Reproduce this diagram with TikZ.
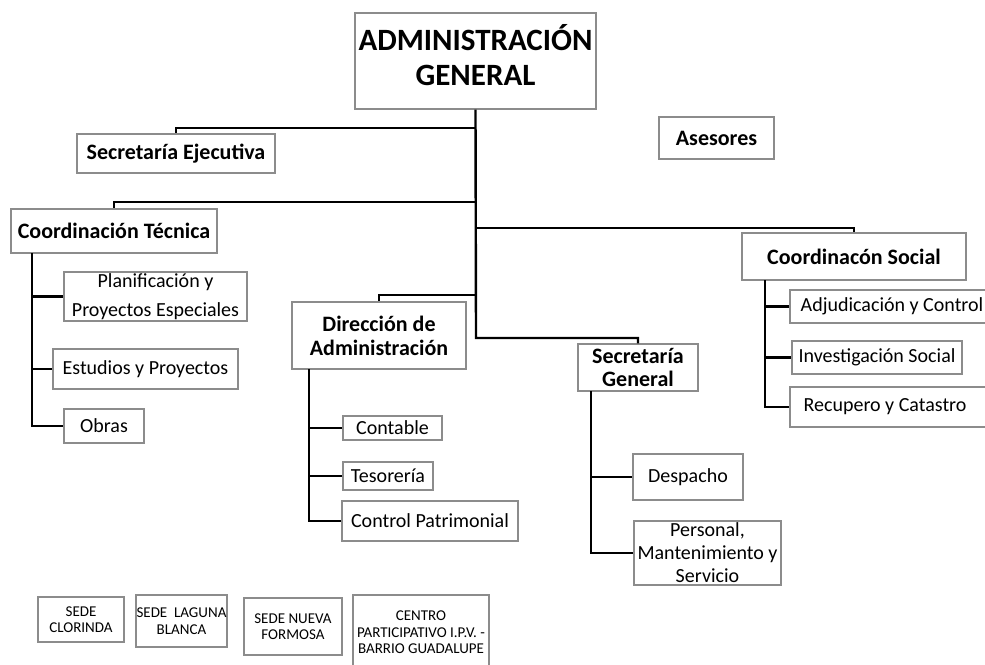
\documentclass[tikz,border=0pt]{standalone}
\usepackage{fontspec}
\setmainfont{Carlito}
\definecolor{boxgray}{HTML}{8C8C8C}
\tikzset{
  box/.style={draw=boxgray, line width=1.2pt, fill=white, align=center, inner sep=0pt,
    font=\fontsize{20}{23}\selectfont},
  bbox/.style={box, font=\bfseries\fontsize{22}{24}\selectfont},
  sbox/.style={box, font=\fontsize{15}{16.5}\selectfont},
  link/.style={line width=2.4pt, black},
}
\begin{document}
\begin{tikzpicture}[x=1pt, y=-1pt]
\useasboundingbox (0,0) rectangle (985,664);
\clip (0,0) rectangle (985,664);

% top level
\node[box, minimum width=241pt, minimum height=96pt, font=\bfseries\fontsize{31}{35}\selectfont] (main) at (475.5,61) {ADMINISTRACIÓN\\GENERAL\\[-22pt]\mbox{}};
\node[bbox, minimum width=198pt, minimum height=39pt] (sej) at (176,153.5) {Secretaría Ejecutiva};
\node[bbox, minimum width=115pt, minimum height=42pt] (ases) at (716.5,138) {Asesores};
\node[bbox, minimum width=206pt, minimum height=44pt] (ctec) at (114,231) {Coordinación Técnica};
\node[bbox, minimum width=224pt, minimum height=47pt] (csoc) at (854,256.5) {Coordinacón Social};
\node[bbox, minimum width=174pt, minimum height=67pt] (dir) at (379,335.5) {Dirección de\\Administración};
\node[bbox, minimum width=120pt, minimum height=47pt, font=\bfseries\fontsize{22}{23}\selectfont] (sgen) at (638,367.5) {Secretaría\\General};

% Coordinación Técnica children
\node[box, minimum width=183pt, minimum height=49pt] (plan) at (155.5,296.5) {Planificación y\\[6pt]Proyectos Especiales};
\node[box, minimum width=185pt, minimum height=40pt] (est) at (145.5,369) {Estudios y Proyectos};
\node[box, minimum width=80pt, minimum height=34pt] (obras) at (104,426) {Obras};

% Dirección children
\node[box, minimum width=99pt, minimum height=24pt] (cont) at (392.5,428) {Contable};
\node[box, minimum width=90pt, minimum height=28pt] (tes) at (388,476) {Tesorería};
\node[box, minimum width=176pt, minimum height=40pt] (cpat) at (430,521) {Control Patrimonial};

% Secretaría General children
\node[box, minimum width=110pt, minimum height=46pt] (desp) at (688,477) {Despacho};
\node[box, minimum width=147pt, minimum height=64pt] (pers) at (707.5,553) {Personal,\\Mantenimiento y\\Servicio};

% Coordinación Social children
\node[box, minimum width=204pt, minimum height=33pt] (adj) at (892,306.5) {Adjudicación y Control};
\node[box, minimum width=170pt, minimum height=33pt] (inv) at (877,357.5) {Investigación Social};
\node[box, minimum width=204pt, minimum height=40pt] (rec) at (892,407) {\hspace*{-14pt}Recupero y Catastro};

% bottom sedes
\node[sbox, minimum width=86pt, minimum height=45pt] (sclor) at (81,619.5) {SEDE\\CLORINDA};
\node[sbox, minimum width=91pt, minimum height=52pt] (slag) at (181.5,621) {SEDE\ \ LAGUNA\\BLANCA};
\node[sbox, minimum width=98pt, minimum height=57pt] (snue) at (293,626.5) {SEDE NUEVA\\FORMOSA};
\node[sbox, minimum width=136pt, minimum height=75pt] (cent) at (421,632.5) {CENTRO\\PARTICIPATIVO I.P.V. -\\BARRIO GUADALUPE};

% trunk connectors
\coordinate (tSG) at (476,338);
\coordinate (tSE) at (476,128);
\coordinate (tCT) at (476,202);
\coordinate (tCS) at (476,228);
\coordinate (tDA) at (476,295);
\draw[link] (main.south) -- (tSG) -| (sgen.north);
\draw[link] (tSE) -| (sej.north);
\draw[link] (tCT) -| (ctec.north);
\draw[link] (tCS) -| (csoc.north);
\draw[link] (tDA) -| (dir.north);

% Coordinación Técnica branch
\coordinate (ct) at (32,253);
\draw[link] (ct) |- (obras.west);
\draw[link] (ct |- plan.west) -- (plan.west);
\draw[link] (ct |- est.west) -- (est.west);

% Dirección branch
\coordinate (da) at (309,369);
\draw[link] (da) |- (cpat.west);
\draw[link] (da |- cont.west) -- (cont.west);
\draw[link] (da |- tes.west) -- (tes.west);

% Secretaría General branch
\coordinate (sg) at (591,391);
\draw[link] (sg) |- (pers.west);
\draw[link] (sg |- desp.west) -- (desp.west);

% Coordinación Social branch
\coordinate (cs) at (765,280);
\draw[link] (cs) |- (rec.west);
\draw[link] (cs |- adj.west) -- (adj.west);
\draw[link] (cs |- inv.west) -- (inv.west);
\end{tikzpicture}
\end{document}
